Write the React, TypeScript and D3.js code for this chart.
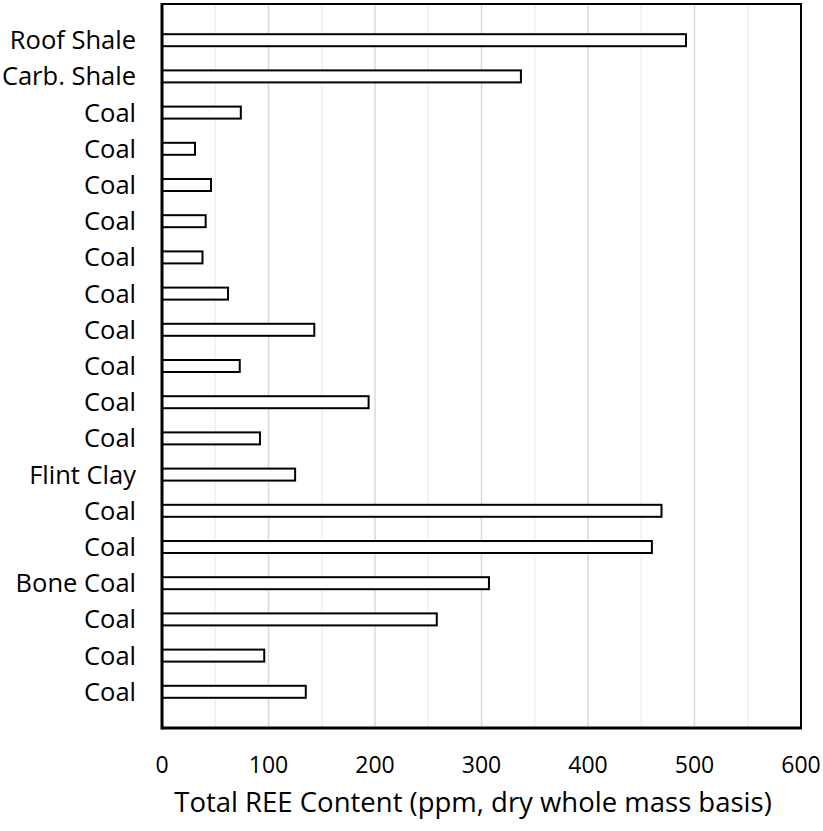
import React from "react";
import * as d3 from "d3";

const categories = [
  "Roof Shale", "Carb. Shale", "Coal", "Coal", "Coal", "Coal", "Coal", "Coal", "Coal", "Coal",
  "Coal", "Coal", "Flint Clay", "Coal", "Coal", "Bone Coal", "Coal", "Coal", "Coal",
];
const reeValues = [492, 337, 74, 31, 46, 41, 38, 62, 143, 73, 194, 92, 125, 469, 460, 307, 258, 96, 135];
const xTicks = [0, 100, 200, 300, 400, 500, 600];
const minorTicks = [50, 150, 250, 350, 450, 550];
const xTitle = "Total REE Content (ppm, dry whole mass basis)";

const W = 823;
const H = 831;
const left = 162;
const right = 801;
const top = 4;
const bottom = 728;
const font = "'Open Sans', sans-serif";

export default function App() {
  const x = d3.scaleLinear().domain([0, 600]).range([left, right]);
  const idx = categories.map((_, i) => i);
  const y = d3.scalePoint<number>().domain(idx).range([top, bottom]).padding(1);
  const barH = 12;

  return (
    <svg width={W} height={H} style={{ position: "absolute", left: 0, top: 0, background: "#fff" }}>
      {minorTicks.map((t) => (
        <line key={"m" + t} x1={x(t)} x2={x(t)} y1={top} y2={bottom} stroke="#efefef" strokeWidth={1.5} />
      ))}
      {xTicks.slice(1, -1).map((t) => (
        <line key={"g" + t} x1={x(t)} x2={x(t)} y1={top} y2={bottom} stroke="#d9d9d9" strokeWidth={1.5} />
      ))}
      {reeValues.map((v, i) => (
        <rect
          key={i}
          x={x(0)}
          y={(y(i) as number) - barH / 2}
          width={x(v) - x(0)}
          height={barH}
          fill="#fff"
          stroke="#000"
          strokeWidth={2}
        />
      ))}
      <rect x={left} y={top} width={right - left} height={bottom - top} fill="none" stroke="#000" strokeWidth={2} />
      <line x1={left} x2={left} y1={top - 1} y2={bottom + 1.5} stroke="#000" strokeWidth={3} />
      <line x1={left} x2={right + 1} y1={bottom} y2={bottom} stroke="#000" strokeWidth={3} />
      {categories.map((c, i) => (
        <text
          key={"c" + i}
          x={136}
          y={y(i) as number}
          dy="0.35em"
          textAnchor="end"
          fontFamily={font}
          fontSize={25.5}
          fill="#000"
        >
          {c}
        </text>
      ))}
      {xTicks.map((t) => (
        <text key={"t" + t} x={x(t)} y={765} dy="0.35em" textAnchor="middle" fontFamily={font} fontSize={23} fill="#000">
          {t}
        </text>
      ))}
      <text x={473} y={802} dy="0.35em" textAnchor="middle" fontFamily={font} fontSize={27.5} fill="#000">
        {xTitle}
      </text>
    </svg>
  );
}
